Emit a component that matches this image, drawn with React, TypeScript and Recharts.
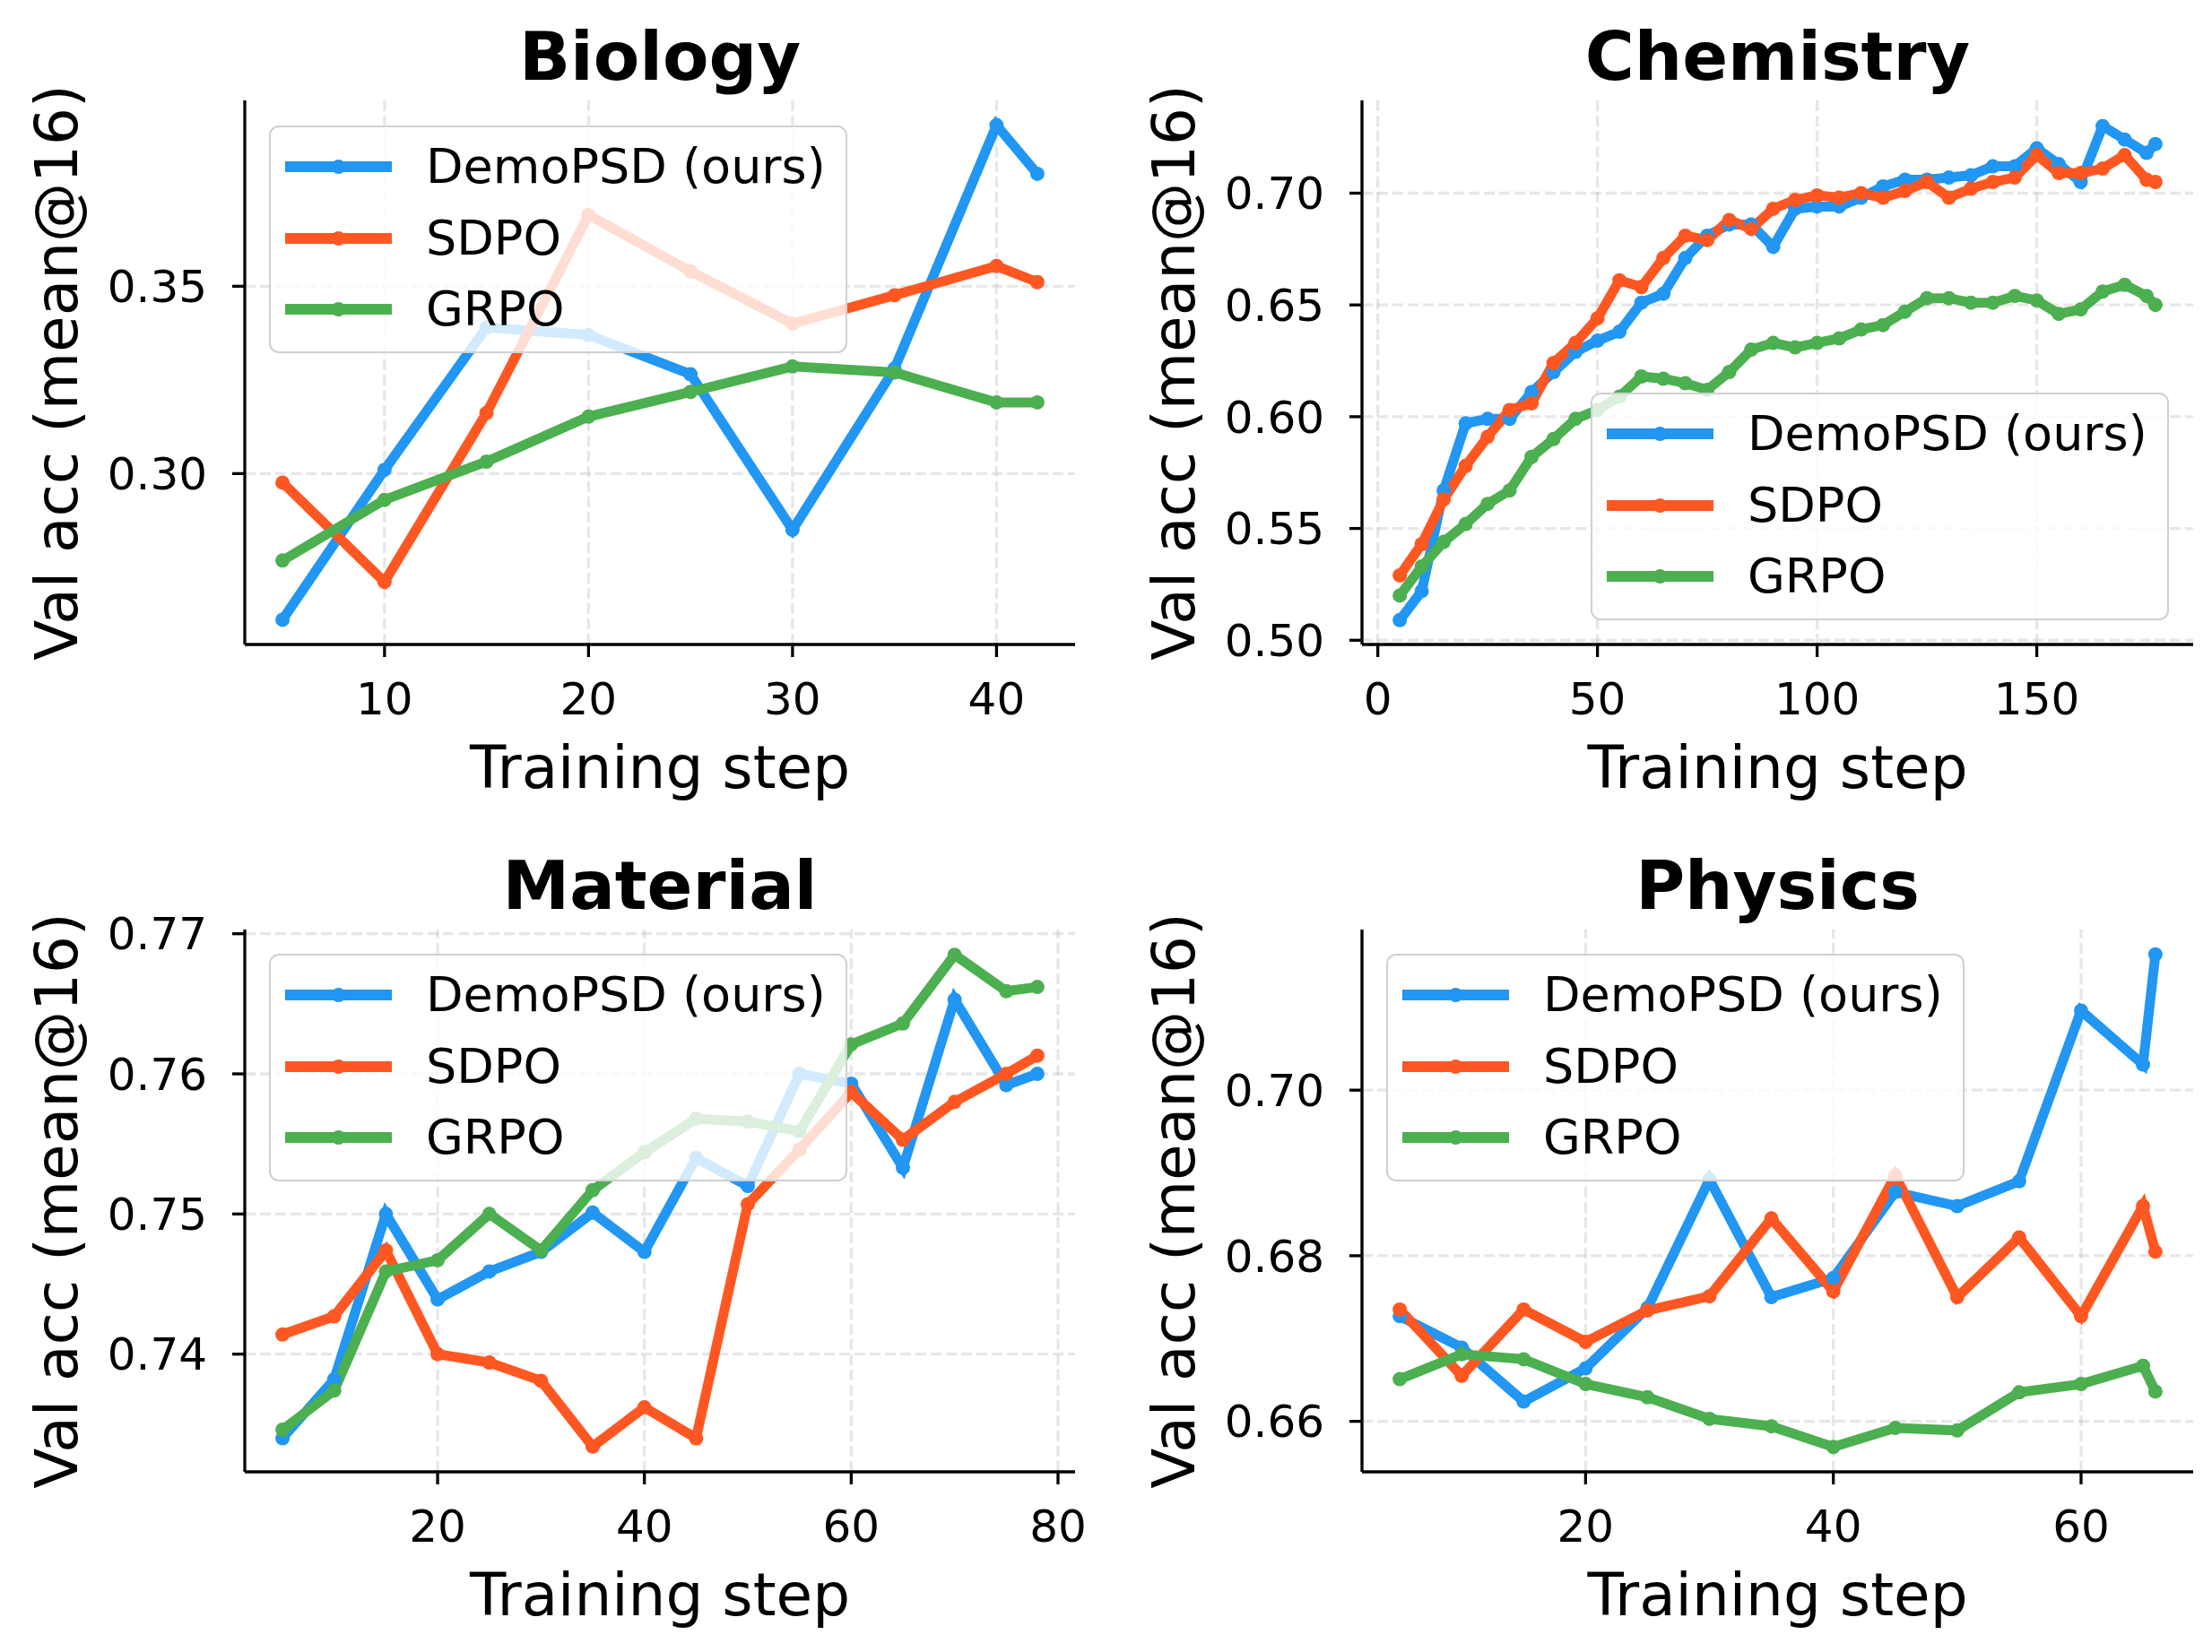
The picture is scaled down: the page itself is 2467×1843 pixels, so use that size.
import { Line, LineChart, ReferenceLine, XAxis, YAxis } from 'recharts';

const FONT = '"DejaVu Sans", Verdana, sans-serif';
const BLUE = '#2196F3';
const RED = '#FF5722';
const GREEN = '#4CAF50';
const GRID = 'rgba(176,176,176,0.3)';

const seriesNames = ['DemoPSD (ours)', 'SDPO', 'GRPO'];
const seriesColors = [BLUE, RED, GREEN];

// Biology
const biologySteps = [5, 10, 15, 20, 25, 30, 35, 40, 42];
const biologyDemo = [0.261, 0.301, 0.339, 0.337, 0.3265, 0.285, 0.328, 0.393, 0.380];
const biologySdpo = [0.2976, 0.2711, 0.3162, 0.369, 0.354, 0.340, 0.3476, 0.3554, 0.3511];
const biologyGrpo = [0.2768, 0.293, 0.3032, 0.3152, 0.3218, 0.3286, 0.327, 0.319, 0.319];

// Chemistry
const chemistrySteps = [5, 10, 15, 20, 25, 30, 35, 40, 45, 50, 55, 60, 65, 70, 75, 80, 85, 90, 95, 100, 105, 110, 115, 120, 125, 130, 135, 140, 145, 150, 155, 160, 165, 170, 175, 177];
const chemistryDemo = [0.509, 0.522, 0.567, 0.597, 0.599, 0.599, 0.611, 0.620, 0.629, 0.634, 0.638, 0.651, 0.655, 0.671, 0.681, 0.686, 0.686, 0.676, 0.693, 0.694, 0.694, 0.698, 0.703, 0.706, 0.706, 0.707, 0.708, 0.712, 0.712, 0.720, 0.713, 0.705, 0.730, 0.724, 0.718, 0.722];
const chemistrySdpo = [0.529, 0.543, 0.563, 0.578, 0.591, 0.603, 0.606, 0.624, 0.633, 0.644, 0.661, 0.658, 0.671, 0.681, 0.679, 0.688, 0.684, 0.693, 0.697, 0.699, 0.698, 0.700, 0.698, 0.701, 0.705, 0.698, 0.702, 0.705, 0.707, 0.717, 0.709, 0.709, 0.711, 0.717, 0.706, 0.705];
const chemistryGrpo = [0.520, 0.533, 0.544, 0.552, 0.561, 0.567, 0.582, 0.590, 0.599, 0.603, 0.609, 0.618, 0.617, 0.615, 0.612, 0.620, 0.630, 0.633, 0.631, 0.633, 0.635, 0.639, 0.641, 0.647, 0.653, 0.653, 0.651, 0.651, 0.654, 0.652, 0.646, 0.648, 0.656, 0.659, 0.654, 0.650];

// Material
const materialSteps = [5, 10, 15, 20, 25, 30, 35, 40, 45, 50, 55, 60, 65, 70, 75, 78];
const materialDemo = [0.7340, 0.7382, 0.7500, 0.7439, 0.7459, 0.7473, 0.7501, 0.7473, 0.7540, 0.7520, 0.7600, 0.7593, 0.7533, 0.7653, 0.7592, 0.7600];
const materialSdpo = [0.7414, 0.7427, 0.7474, 0.7400, 0.7394, 0.7381, 0.7334, 0.7362, 0.7340, 0.7507, 0.7546, 0.7587, 0.7553, 0.7580, 0.7600, 0.7613];
const materialGrpo = [0.7346, 0.7374, 0.7459, 0.7467, 0.7500, 0.7474, 0.7517, 0.7544, 0.7568, 0.7566, 0.7559, 0.7621, 0.7636, 0.7685, 0.7659, 0.7662];

// Physics
const physicsSteps = [5, 10, 15, 20, 25, 30, 35, 40, 45, 50, 55, 60, 65, 66];
const physicsDemo = [0.6727, 0.6689, 0.6624, 0.6664, 0.6737, 0.6892, 0.6750, 0.6773, 0.6877, 0.6860, 0.6890, 0.7096, 0.7031, 0.7164];
const physicsSdpo = [0.6735, 0.6655, 0.6735, 0.6696, 0.6734, 0.6751, 0.6845, 0.6757, 0.6897, 0.6750, 0.6822, 0.6727, 0.6860, 0.6805];
const physicsGrpo = [0.6651, 0.6681, 0.6675, 0.6645, 0.6629, 0.6603, 0.6594, 0.6569, 0.6592, 0.6589, 0.6635, 0.6645, 0.6667, 0.6636];

const keys = ['demo', 'sdpo', 'grpo'];

function rows(steps: number[], demo: number[], sdpo: number[], grpo: number[]) {
    return steps.map((step, i) => ({ step, demo: demo[i], sdpo: sdpo[i], grpo: grpo[i] }));
}

interface PanelProps {
    title: string;
    x: number;
    y: number;
    w: number;
    h: number;
    box: { left: number; top: number; right: number; bottom: number };
    data: Record<string, number>[];
    xDomain: [number, number];
    xTicks: number[];
    yDomain: [number, number];
    yTicks: number[];
    legendPos: { left: number; top: number };
}

const Y_W = 200;
const X_H = 100;

function LegendBox({ left, top }: { left: number; top: number }) {
    return (
        <div
            style={{
                position: 'absolute',
                left,
                top,
                width: 645,
                height: 254,
                boxSizing: 'border-box',
                background: 'rgba(255,255,255,0.8)',
                border: '2px solid #d0d0d0',
                borderRadius: 11,
                fontFamily: FONT,
                fontSize: 54,
                color: '#000',
            }}
        >
            {seriesNames.map((name, i) => (
                <div key={name} style={{ position: 'absolute', left: 0, top: 44 + i * 79.5 - 40, height: 80, width: '100%' }}>
                    <svg width={140} height={80} style={{ position: 'absolute', left: 14, top: 0 }}>
                        <line x1={2} x2={121} y1={40} y2={40} stroke={seriesColors[i]} strokeWidth={12} />
                        <circle cx={61.5} cy={40} r={8} fill={seriesColors[i]} />
                    </svg>
                    <div style={{ position: 'absolute', left: 173, top: 0, height: 80, lineHeight: '80px', whiteSpace: 'nowrap' }}>{name}</div>
                </div>
            ))}
        </div>
    );
}

function Panel({ title, x, y, w, h, box, data, xDomain, xTicks, yDomain, yTicks, legendPos }: PanelProps) {
    const axisStroke = { stroke: '#000', strokeWidth: 3.3 };
    const tickStyle = { fontSize: 50, fill: '#000', fontFamily: FONT };
    const cx = (box.left + box.right) / 2;
    const cy = (box.top + box.bottom) / 2;
    return (
        <div style={{ position: 'absolute', left: x, top: y, width: w, height: h }}>
            <LineChart
                width={w}
                height={h}
                data={data}
                margin={{ top: box.top, right: w - box.right, left: box.left - Y_W, bottom: h - box.bottom - X_H }}
            >
                <XAxis
                    dataKey="step"
                    type="number"
                    domain={xDomain}
                    ticks={xTicks}
                    allowDataOverflow
                    height={X_H}
                    tick={tickStyle}
                    tickSize={14}
                    tickMargin={28}
                    axisLine={axisStroke}
                    tickLine={axisStroke}
                />
                <YAxis
                    type="number"
                    domain={yDomain}
                    ticks={yTicks}
                    allowDataOverflow
                    width={Y_W}
                    tick={tickStyle}
                    tickSize={14}
                    tickMargin={28}
                    tickFormatter={(v: number) => v.toFixed(2)}
                    axisLine={axisStroke}
                    tickLine={axisStroke}
                />
                {yTicks.map((t) => (
                    <ReferenceLine key={`h${t}`} y={t} stroke={GRID} strokeWidth={3.3} strokeDasharray="12 5" />
                ))}
                {xTicks.map((t) => (
                    <ReferenceLine key={`v${t}`} x={t} stroke={GRID} strokeWidth={3.3} strokeDasharray="12 5" />
                ))}
                {keys.map((k, i) => (
                    <Line
                        key={k}
                        type="linear"
                        dataKey={k}
                        stroke={seriesColors[i]}
                        strokeWidth={11}
                        dot={{ r: 8, fill: seriesColors[i], stroke: seriesColors[i], strokeWidth: 0 }}
                        activeDot={false}
                        isAnimationActive={false}
                    />
                ))}
            </LineChart>
            <svg width={w} height={h} style={{ position: 'absolute', left: 0, top: 0, pointerEvents: 'none' }}>
                <text x={cx} y={box.top - 23} textAnchor="middle" fontFamily={FONT} fontWeight="bold" fontSize={75} fill="#000">
                    {title}
                </text>
                <text x={cx} y={box.bottom + 160} textAnchor="middle" fontFamily={FONT} fontSize={66} fill="#000">
                    Training step
                </text>
                <text
                    x={box.left - 187}
                    y={cy}
                    textAnchor="middle"
                    fontFamily={FONT}
                    fontSize={66}
                    fill="#000"
                    transform={`rotate(-90 ${box.left - 187} ${cy})`}
                >
                    Val acc (mean@16)
                </text>
            </svg>
            <LegendBox left={legendPos.left} top={legendPos.top} />
        </div>
    );
}

export default function App() {
    return (
        <div style={{ position: 'absolute', left: 0, top: 0, width: 2467, height: 1843, background: '#fff', overflow: 'hidden' }}>
            <Panel
                title="Biology"
                x={0}
                y={0}
                w={1234}
                h={921}
                box={{ left: 273, top: 112, right: 1199, bottom: 719 }}
                data={rows(biologySteps, biologyDemo, biologySdpo, biologyGrpo)}
                xDomain={[3.15, 43.85]}
                xTicks={[10, 20, 30, 40]}
                yDomain={[0.2544, 0.3996]}
                yTicks={[0.3, 0.35]}
                legendPos={{ left: 300, top: 140 }}
            />
            <Panel
                title="Chemistry"
                x={1234}
                y={0}
                w={1233}
                h={921}
                box={{ left: 285, top: 112, right: 1212, bottom: 719 }}
                data={rows(chemistrySteps, chemistryDemo, chemistrySdpo, chemistryGrpo)}
                xDomain={[-3.6, 185.6]}
                xTicks={[0, 50, 100, 150]}
                yDomain={[0.4981, 0.7415]}
                yTicks={[0.5, 0.55, 0.6, 0.65, 0.7]}
                legendPos={{ left: 540, top: 438 }}
            />
            <Panel
                title="Material"
                x={0}
                y={921}
                w={1234}
                h={922}
                box={{ left: 273, top: 116, right: 1199, bottom: 721 }}
                data={rows(materialSteps, materialDemo, materialSdpo, materialGrpo)}
                xDomain={[1.35, 81.65]}
                xTicks={[20, 40, 60, 80]}
                yDomain={[0.7316, 0.7703]}
                yTicks={[0.74, 0.75, 0.76, 0.77]}
                legendPos={{ left: 300, top: 143 }}
            />
            <Panel
                title="Physics"
                x={1234}
                y={921}
                w={1233}
                h={922}
                box={{ left: 285, top: 116, right: 1212, bottom: 721 }}
                data={rows(physicsSteps, physicsDemo, physicsSdpo, physicsGrpo)}
                xDomain={[1.95, 69.05]}
                xTicks={[20, 40, 60]}
                yDomain={[0.6539, 0.7194]}
                yTicks={[0.66, 0.68, 0.7]}
                legendPos={{ left: 312, top: 143 }}
            />
        </div>
    );
}
